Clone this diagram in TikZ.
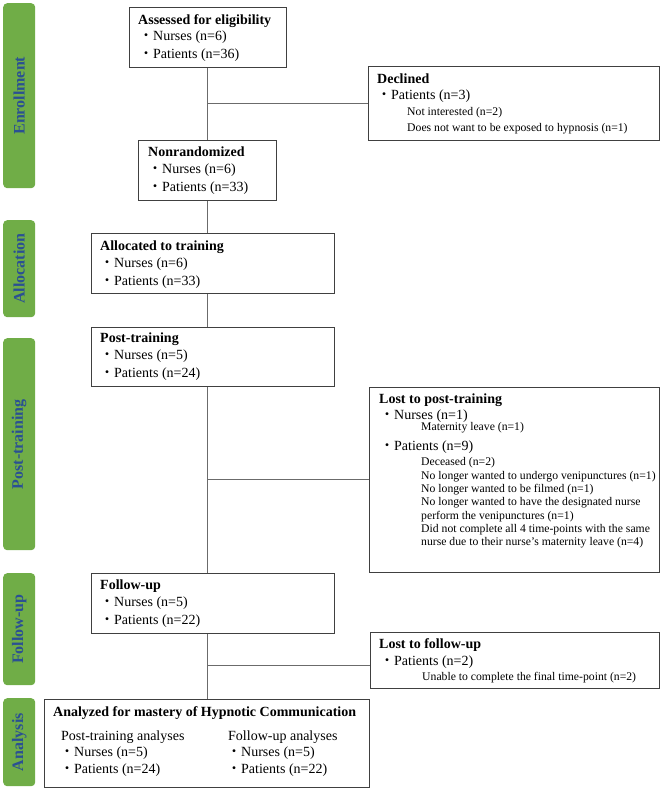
\documentclass[tikz,border=0pt]{standalone}
\usepackage{fontspec}
\setmainfont{Liberation Serif}
\newfontfamily\cjk{Noto Sans CJK JP}
\newcommand\bul{{\cjk ・}}
\definecolor{labgreen}{HTML}{70AD47}
\definecolor{labblue}{HTML}{2A5093}
\definecolor{boxgray}{HTML}{404040}
\definecolor{conngray}{HTML}{6B6B6B}
\tikzset{
  box/.style={draw=boxgray, line width=0.9pt, inner sep=0pt, anchor=north west},
  conn/.style={draw=conngray, line width=0.9pt},
  lab/.style={fill=labgreen, rounded corners=4pt, inner sep=0pt, anchor=north west, minimum width=32pt},
  labtxt/.style={rotate=90, text=labblue, font=\fontsize{16}{19}\selectfont\bfseries, inner sep=0pt},
  txt/.style={anchor=west, inner sep=0pt, text height=10pt, text depth=3pt, font=\fontsize{14}{17}\selectfont},
  hd/.style={txt, font=\fontsize{14}{17}\selectfont\bfseries},
  sm/.style={anchor=west, inner sep=0pt, text height=8.4pt, text depth=2.5pt, font=\fontsize{11.7}{14}\selectfont}
}
\begin{document}
\begin{tikzpicture}[x=1pt, y=-1pt]
\useasboundingbox (0,0) rectangle (662,789);

% phase labels
\node[lab, minimum height=185pt] (lenr) at (3,3) {};
\node[labtxt] at (lenr.center) {Enrollment};
\node[lab, minimum height=97pt] (lall) at (3,220) {};
\node[labtxt] at (lall.center) {Allocation};
\node[lab, minimum height=212pt] (lpost) at (3,338) {};
\node[labtxt] at (lpost.center) {Post-training};
\node[lab, minimum height=112pt] (lfu) at (3,573) {};
\node[labtxt] at (lfu.center) {Follow-up};
\node[lab, minimum height=88pt] (lan) at (3,698) {};
\node[labtxt] at (lan.center) {Analysis};

% boxes
\node[box, minimum width=157pt, minimum height=60pt] (assess) at (129,7) {};
\node[box, minimum width=138pt, minimum height=60pt] (nonrand) at (138,140) {};
\node[box, minimum width=291pt, minimum height=74pt] (declined) at (368,66) {};
\node[box, minimum width=243pt, minimum height=60pt] (alloc) at (91,233) {};
\node[box, minimum width=243pt, minimum height=59pt] (post) at (91,327) {};
\node[box, minimum width=290pt, minimum height=185pt] (lostpost) at (369,387) {};
\node[box, minimum width=243pt, minimum height=60pt] (follow) at (91,573) {};
\node[box, minimum width=289pt, minimum height=56pt] (lostfu) at (370,632) {};
\node[box, minimum width=325pt, minimum height=88pt] (analysis) at (44,699) {};

% connectors
\coordinate (sp) at (207,0);
\coordinate (j1) at (207,103);
\coordinate (j2) at (207,479);
\coordinate (j3) at (207,665);
\draw[conn] (assess.south -| sp) -- (nonrand.north -| sp);
\draw[conn] (j1) -- (declined.west |- j1);
\draw[conn] (nonrand.south -| sp) -- (alloc.north -| sp);
\draw[conn] (alloc.south -| sp) -- (post.north -| sp);
\draw[conn] (post.south -| sp) -- (follow.north -| sp);
\draw[conn] (j2) -- (lostpost.west |- j2);
\draw[conn] (follow.south -| sp) -- (analysis.north -| sp);
\draw[conn] (j3) -- (lostfu.west |- j3);

% texts: assessed
\node[hd] (t1) at (138,21) {Assessed for eligibility};
\node[txt] (t2) at (139,37) {\bul Nurses (n=6)};
\node[txt] (t3) at (139,55) {\bul Patients (n=36)};
% nonrandomized
\node[hd] (t4) at (148,153) {Nonrandomized};
\node[txt] (t5) at (148,170) {\bul Nurses (n=6)};
\node[txt] (t6) at (148,188) {\bul Patients (n=33)};
% declined
\node[hd] (t7) at (377,80) {Declined};
\node[txt] (t8) at (377,96) {\bul Patients (n=3)};
\node[sm] (t9) at (407,113) {Not interested (n=2)};
\node[sm] (t10) at (407,129) {Does not want to be exposed to hypnosis (n=1)};
% allocated
\node[hd] (t11) at (100,247) {Allocated to training};
\node[txt] (t12) at (100,264) {\bul Nurses (n=6)};
\node[txt] (t13) at (100,282) {\bul Patients (n=33)};
% post-training
\node[hd] (t14) at (100,339) {Post-training};
\node[txt] (t15) at (100,356) {\bul Nurses (n=5)};
\node[txt] (t16) at (100,374) {\bul Patients (n=24)};
% lost to post-training
\node[hd] (t17) at (379,400) {Lost to post-training};
\node[txt] (t18) at (380,416) {\bul Nurses (n=1)};
\node[sm] (t19) at (421,428) {Maternity leave (n=1)};
\node[txt] (t20) at (380,447) {\bul Patients (n=9)};
\node[sm] (t21) at (421,463) {Deceased (n=2)};
\node[sm] (t22) at (421,476.3) {No longer wanted to undergo venipunctures (n=1)};
\node[sm] (t23) at (421,489.7) {No longer wanted to be filmed (n=1)};
\node[sm] (t24) at (421,503) {No longer wanted to have the designated nurse};
\node[sm] (t25) at (421,516.3) {perform the venipunctures (n=1)};
\node[sm] (t26) at (421,529.7) {Did not complete all 4 time-points with the same};
\node[sm] (t27) at (421,543) {nurse due to their nurse’s maternity leave (n=4)};
% follow-up
\node[hd] (t28) at (100,586) {Follow-up};
\node[txt] (t29) at (100,603) {\bul Nurses (n=5)};
\node[txt] (t30) at (100,621) {\bul Patients (n=22)};
% lost to follow-up
\node[hd] (t31) at (379,645) {Lost to follow-up};
\node[txt] (t32) at (380,662) {\bul Patients (n=2)};
\node[sm] (t33) at (422,678) {Unable to complete the final time-point (n=2)};
% analysis
\node[hd] (t34) at (53,713) {Analyzed for mastery of Hypnotic Communication};
\node[txt] (t35) at (61,737) {Post-training analyses};
\node[txt] (t36) at (60,753) {\bul Nurses (n=5)};
\node[txt] (t37) at (60,770) {\bul Patients (n=24)};
\node[txt] (t38) at (228,737) {Follow-up analyses};
\node[txt] (t39) at (227,753) {\bul Nurses (n=5)};
\node[txt] (t40) at (227,770) {\bul Patients (n=22)};
\end{tikzpicture}
\end{document}
